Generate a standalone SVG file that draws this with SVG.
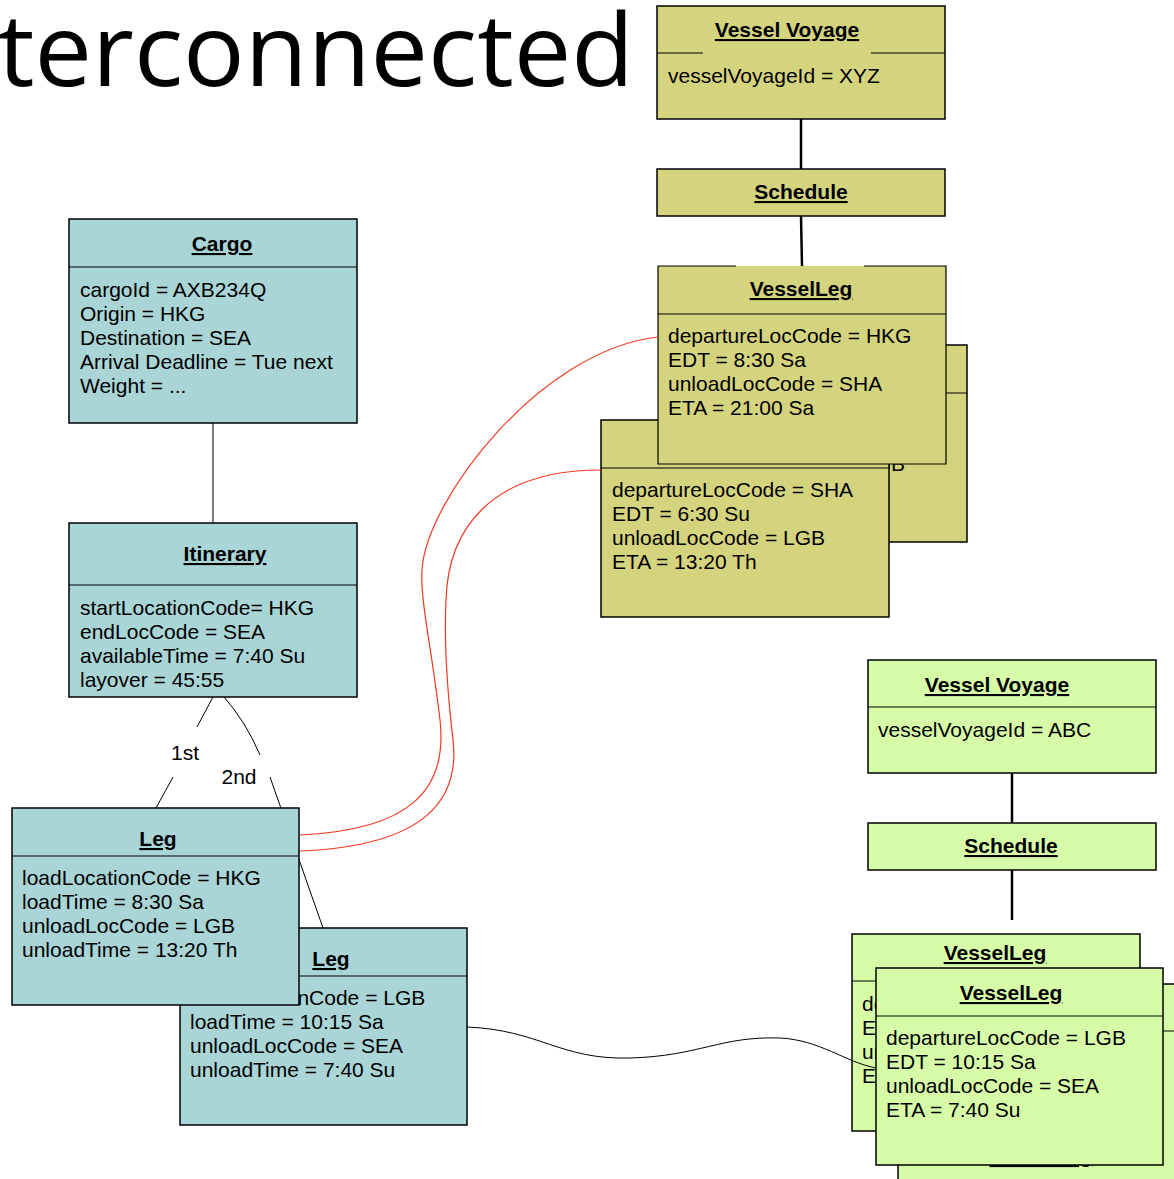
<svg xmlns="http://www.w3.org/2000/svg" width="1174" height="1179" viewBox="0 0 1174 1179">
<style>
.y{fill:#D5D47E;stroke:#000;stroke-width:1.5}
.t{fill:#A9D5D6;stroke:#000;stroke-width:1.5}
.g{fill:#D6FCA8;stroke:#000;stroke-width:1.5}
.div{stroke:#000;stroke-width:1.2;fill:none}
.ttl{font-family:"Liberation Sans",Arial,sans-serif;font-size:21px;font-weight:bold;text-decoration:underline;text-anchor:middle;fill:#000}
.txt{font-family:"Liberation Sans",Arial,sans-serif;font-size:21px;fill:#000}
.lbl{font-family:"Liberation Sans",Arial,sans-serif;font-size:21px;fill:#000;text-anchor:middle}
.ln{stroke:#000;stroke-width:1;fill:none}
.lnb{stroke:#000;stroke-width:2.5;fill:none}
.red{stroke:#F0391E;stroke-width:1.2;fill:none}
</style>
<rect width="1174" height="1179" fill="#fff"/>
<text x="-2" y="86" font-family="'Open Sans',sans-serif" font-size="100" textLength="636" lengthAdjust="spacingAndGlyphs" fill="#000">terconnected</text>

<g id="vessel-voyage-xyz">
<rect class="y" x="657" y="6" width="288" height="113"/>
<line class="div" x1="657" y1="53" x2="703" y2="53"/><line class="div" x1="871" y1="53" x2="945" y2="53"/>
<text class="ttl" x="787" y="37">Vessel Voyage</text>
<text class="txt" x="668" y="83">vesselVoyageId = XYZ</text>
</g>
<g id="schedule-xyz">
<rect class="y" x="657" y="169" width="288" height="47"/>
<text class="ttl" x="801" y="199">Schedule</text>
</g>

<g id="cargo">
<rect class="t" x="69" y="219" width="288" height="204"/>
<line class="div" x1="69" y1="267" x2="357" y2="267"/>
<text class="ttl" x="222" y="251">Cargo</text>
<text class="txt" x="80" y="297">cargoId = AXB234Q</text>
<text class="txt" x="80" y="321">Origin = HKG</text>
<text class="txt" x="80" y="345">Destination = SEA</text>
<text class="txt" x="80" y="369">Arrival Deadline = Tue next</text>
<text class="txt" x="80" y="393">Weight = ...</text>
</g>

<g id="itinerary">
<rect class="t" x="69" y="523" width="288" height="174"/>
<line class="div" x1="69" y1="585" x2="357" y2="585"/>
<text class="ttl" x="225" y="561">Itinerary</text>
<text class="txt" x="80" y="615">startLocationCode= HKG</text>
<text class="txt" x="80" y="639">endLocCode = SEA</text>
<text class="txt" x="80" y="663">availableTime = 7:40 Su</text>
<text class="txt" x="80" y="687">layover = 45:55</text>
</g>

<g id="leg-2">
<rect class="t" x="180" y="928" width="287" height="197"/>
<line class="div" x1="180" y1="976" x2="467" y2="976"/>
<text class="ttl" x="331" y="966">Leg</text>
<text class="txt" x="190" y="1005">loadLocationCode = LGB</text>
<text class="txt" x="190" y="1029">loadTime = 10:15 Sa</text>
<text class="txt" x="190" y="1053">unloadLocCode = SEA</text>
<text class="txt" x="190" y="1077">unloadTime = 7:40 Su</text>
</g>

<g id="vessel-leg-back">
<rect class="y" x="679" y="345" width="288" height="197"/>
<line class="div" x1="679" y1="393" x2="967" y2="393"/>
<text class="txt" x="692" y="471">unloadLocCode = LGB</text>
</g>
<g id="vessel-leg-sha">
<rect class="y" x="601" y="420" width="288" height="197"/>
<line class="div" x1="601" y1="468" x2="889" y2="468"/>
<text class="txt" x="612" y="497">departureLocCode = SHA</text>
<text class="txt" x="612" y="521">EDT = 6:30 Su</text>
<text class="txt" x="612" y="545">unloadLocCode = LGB</text>
<text class="txt" x="612" y="569">ETA = 13:20 Th</text>
</g>
<g id="vessel-leg-hkg">
<rect x="658" y="266" width="288" height="198" fill="#D5D47E"/>
<path class="div" d="M736,266 H658 V464 H946 V266 H864" stroke-width="1.5"/>
<line class="div" x1="658" y1="314" x2="946" y2="314"/>
<text class="ttl" x="801" y="296">VesselLeg</text>
<text class="txt" x="668" y="343">departureLocCode = HKG</text>
<text class="txt" x="668" y="367">EDT = 8:30 Sa</text>
<text class="txt" x="668" y="391">unloadLocCode = SHA</text>
<text class="txt" x="668" y="415">ETA = 21:00 Sa</text>
</g>

<g id="vessel-voyage-abc">
<rect class="g" x="868" y="660" width="288" height="113"/>
<line class="div" x1="868" y1="707" x2="1156" y2="707"/>
<text class="ttl" x="997" y="692">Vessel Voyage</text>
<text class="txt" x="878" y="737">vesselVoyageId = ABC</text>
</g>
<g id="schedule-abc">
<rect class="g" x="868" y="823" width="288" height="47"/>
<text class="ttl" x="1011" y="853">Schedule</text>
</g>

<g id="vessel-leg-c">
<rect class="g" x="898" y="984" width="290" height="210"/>
<line class="div" x1="898" y1="1031" x2="1188" y2="1031"/>
<text class="ttl" x="1041" y="1163">VesselLeg</text>
</g>
<g id="vessel-leg-a">
<rect class="g" x="852" y="934" width="288" height="197"/>
<line class="div" x1="852" y1="981" x2="1140" y2="981"/>
<text class="ttl" x="995" y="960">VesselLeg</text>
<text class="txt" x="862" y="1011">departureLocCode = LGB</text>
<text class="txt" x="862" y="1035">EDT = 10:15 Sa</text>
<text class="txt" x="862" y="1059">unloadLocCode = SEA</text>
<text class="txt" x="862" y="1083">ETA = 7:40 Su</text>
</g>

<g id="connectors">
<line class="lnb" x1="801" y1="119" x2="801" y2="169"/>
<line class="lnb" x1="801" y1="216" x2="802" y2="266"/>
<line class="lnb" x1="1012" y1="773" x2="1012" y2="823"/>
<line class="lnb" x1="1012" y1="870" x2="1012" y2="920"/>
<line class="ln" x1="213" y1="423" x2="213" y2="523"/>
<line class="ln" x1="213" y1="697" x2="197" y2="727"/>
<line class="ln" x1="173" y1="777" x2="156" y2="808"/>
<path class="ln" d="M224,697 Q246,722 260,755"/>
<path class="ln" d="M270,777 L323,928"/>
<path class="red" d="M300,835 C410,830 448,790 440,720 S420,600 422,570 C426,500 540,350 658,337"/>
<path class="red" d="M300,851 C425,846 460,800 453,740 S444,640 446,600 C448,530 490,470 601,470"/>
<path class="ln" d="M467,1027 C540,1030 560,1060 630,1058 C700,1056 720,1036 780,1038 C820,1040 845,1062 876,1068"/>
<text class="lbl" x="185" y="760">1st</text>
<text class="lbl" x="239" y="784">2nd</text>
</g>

<g id="leg-1">
<rect class="t" x="12" y="808" width="287" height="197"/>
<line class="div" x1="12" y1="856" x2="299" y2="856"/>
<text class="ttl" x="158" y="846">Leg</text>
<text class="txt" x="22" y="885">loadLocationCode = HKG</text>
<text class="txt" x="22" y="909">loadTime = 8:30 Sa</text>
<text class="txt" x="22" y="933">unloadLocCode = LGB</text>
<text class="txt" x="22" y="957">unloadTime = 13:20 Th</text>
</g>

<g id="vessel-leg-b">
<rect class="g" x="876" y="968" width="287" height="197"/>
<line class="div" x1="876" y1="1016" x2="1163" y2="1016"/>
<text class="ttl" x="1011" y="1000">VesselLeg</text>
<text class="txt" x="886" y="1045">departureLocCode = LGB</text>
<text class="txt" x="886" y="1069">EDT = 10:15 Sa</text>
<text class="txt" x="886" y="1093">unloadLocCode = SEA</text>
<text class="txt" x="886" y="1117">ETA = 7:40 Su</text>
</g>
</svg>
